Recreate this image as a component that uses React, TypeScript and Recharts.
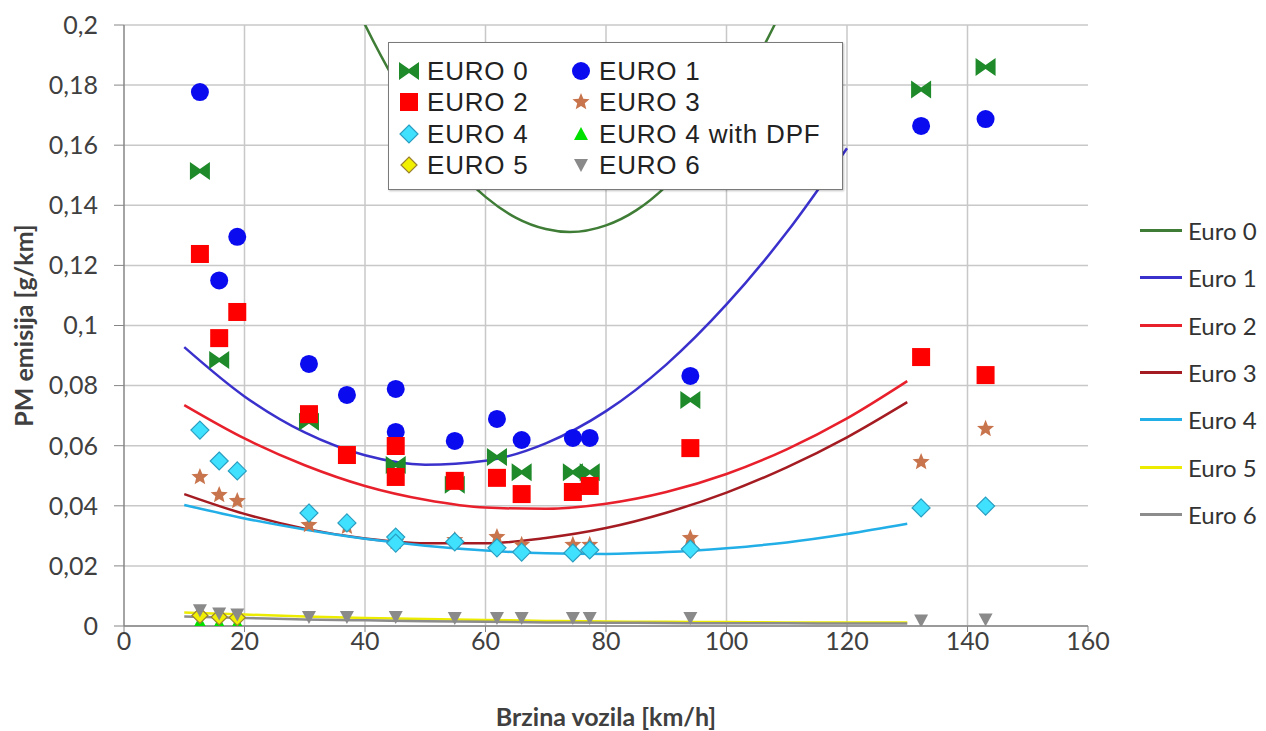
import React from 'react';
import { ComposedChart, Scatter, Line, XAxis, YAxis, CartesianGrid, ReferenceLine, Label } from 'recharts';

// ---- measured points (speed km/h, PM g/km) ----
const euro0X = [12.6, 15.8, 30.7, 45.1, 54.9, 61.9, 66.0, 74.5, 77.3, 94.0, 132.3, 143.0];
const euro0Y = [0.1514, 0.0885, 0.068, 0.0536, 0.047, 0.0562, 0.0512, 0.0512, 0.0512, 0.0752, 0.1785, 0.186];

const euro1X = [12.6, 15.8, 18.8, 30.7, 37.0, 45.1, 45.1, 54.9, 61.9, 66.0, 74.5, 77.3, 94.0, 132.3, 143.0];
const euro1Y = [0.1777, 0.115, 0.1295, 0.0872, 0.0769, 0.0789, 0.0646, 0.0616, 0.0689, 0.0619, 0.0626, 0.0626, 0.0832, 0.1664, 0.1687];

const euro2X = [12.6, 15.8, 18.8, 30.7, 37.0, 45.1, 45.1, 54.9, 61.9, 66.0, 74.5, 77.3, 94.0, 132.3, 143.0];
const euro2Y = [0.1238, 0.0958, 0.1045, 0.0705, 0.0569, 0.0599, 0.0496, 0.0483, 0.0493, 0.0439, 0.0446, 0.0466, 0.0592, 0.0895, 0.0835];

const euro3X = [12.6, 15.8, 18.8, 30.7, 37.0, 45.1, 54.9, 61.9, 66.0, 74.5, 77.3, 94.0, 132.3, 143.0];
const euro3Y = [0.0496, 0.0436, 0.0416, 0.0336, 0.033, 0.028, 0.0286, 0.0296, 0.027, 0.027, 0.027, 0.0293, 0.0546, 0.0656];

const euro4X = [12.6, 15.8, 18.8, 30.7, 37.0, 45.1, 45.1, 54.9, 61.9, 66.0, 74.5, 77.3, 94.0, 132.3, 143.0];
const euro4Y = [0.0652, 0.0549, 0.0516, 0.0376, 0.0343, 0.0296, 0.0276, 0.028, 0.026, 0.0246, 0.0243, 0.0253, 0.0256, 0.0393, 0.0399];

const dpfX = [12.6, 15.8, 18.8];
const dpfY = [0.0012, 0.0008, 0.0008];

const euro5X = [12.6, 15.8, 18.8];
const euro5Y = [0.0035, 0.003, 0.0028];

const euro6X = [12.6, 15.8, 18.8, 30.7, 37.0, 45.1, 54.9, 61.9, 66.0, 74.5, 77.3, 94.0, 132.3, 143.0];
const euro6Y = [0.0052, 0.0042, 0.0038, 0.003, 0.003, 0.003, 0.0027, 0.0027, 0.0027, 0.0027, 0.0027, 0.0027, 0.0018, 0.0022];

// ---- trend curves ----
const trend0X = [36, 40, 45, 50, 55, 60, 65, 70, 74, 80, 85, 90, 95, 100, 105, 110, 112];
const trend0Y = [0.2173, 0.2001, 0.1813, 0.1655, 0.1527, 0.1428, 0.1359, 0.1321, 0.1311, 0.1333, 0.1383, 0.1464, 0.1574, 0.1715, 0.1885, 0.2085, 0.2173];

const trendX = [10, 20, 30, 40, 50, 60, 70, 80, 90, 100, 110, 120, 130];
const trend1Y = [0.0928, 0.0764, 0.0644, 0.0568, 0.0537, 0.055, 0.0608, 0.0715, 0.087, 0.107, 0.131, 0.159];
const trend2Y = [0.0735, 0.0624, 0.0535, 0.0466, 0.042, 0.0394, 0.039, 0.0407, 0.0446, 0.0506, 0.0588, 0.0691, 0.0815];
const trend3Y = [0.0439, 0.0373, 0.0324, 0.0291, 0.0275, 0.0275, 0.0293, 0.0326, 0.0377, 0.0444, 0.0528, 0.0628, 0.0745];
const trend4Y = [0.0403, 0.0358, 0.0321, 0.029, 0.0267, 0.0251, 0.0242, 0.024, 0.0246, 0.0259, 0.0278, 0.0306, 0.034];
const trend5Y = [0.0045, 0.0038, 0.0032, 0.0027, 0.0023, 0.002, 0.0017, 0.0015, 0.0014, 0.0013, 0.0012, 0.0012, 0.0012];
const trend6Y = [0.0032, 0.0027, 0.0022, 0.0019, 0.0016, 0.0014, 0.0012, 0.0011, 0.001, 0.0009, 0.0009, 0.0008, 0.0008];

const xTicks = [0, 20, 40, 60, 80, 100, 120, 140, 160];
const xGrid = [20, 40, 60, 80, 100, 120, 140];
const yTicks = [0, 0.02, 0.04, 0.06, 0.08, 0.1, 0.12, 0.14, 0.16, 0.18, 0.2];

const zip = (xs: number[], ys: number[]) => ys.map((y, i) => ({ x: xs[i], y }));

// ---- marker shapes ----
const Bowtie = (p: any) => {
  const { cx, cy } = p;
  return <path d={`M${cx - 10},${cy - 9}L${cx},${cy - 2}L${cx + 10},${cy - 9}L${cx + 10},${cy + 9}L${cx},${cy + 2}L${cx - 10},${cy + 9}Z`} fill="#1f8a2a" />;
};
const Dot = (p: any) => <circle cx={p.cx} cy={p.cy} r={9} fill="#0b0bf0" />;
const Sq = (p: any) => <rect x={p.cx - 9} y={p.cy - 9} width={18} height={18} fill="#ff0000" />;
const starPath = (cx: number, cy: number, R: number, r: number) => {
  let d = '';
  for (let i = 0; i < 10; i++) {
    const a = -Math.PI / 2 + (i * Math.PI) / 5;
    const rad = i % 2 === 0 ? R : r;
    d += (i === 0 ? 'M' : 'L') + (cx + rad * Math.cos(a)).toFixed(2) + ',' + (cy + rad * Math.sin(a)).toFixed(2);
  }
  return d + 'Z';
};
const Star = (p: any) => <path d={starPath(p.cx, p.cy, 9, 4)} fill="#c8744c" />;
const Diamond = (p: any) => (
  <path d={`M${p.cx},${p.cy - 9}L${p.cx + 9},${p.cy}L${p.cx},${p.cy + 9}L${p.cx - 9},${p.cy}Z`} fill="#40e0ff" stroke="#2a9ec0" strokeWidth={1.2} />
);
const Tri = (p: any) => <path d={`M${p.cx},${p.cy - 7}L${p.cx + 7},${p.cy + 6}L${p.cx - 7},${p.cy + 6}Z`} fill="#00e000" />;
const YDiamond = (p: any) => (
  <path d={`M${p.cx},${p.cy - 8}L${p.cx + 8},${p.cy}L${p.cx},${p.cy + 8}L${p.cx - 8},${p.cy}Z`} fill="#f0f000" stroke="#9a8030" strokeWidth={1.2} />
);
const DownTri = (p: any) => <path d={`M${p.cx - 7},${p.cy - 6}L${p.cx + 7},${p.cy - 6}L${p.cx},${p.cy + 7}Z`} fill="#8a8a8a" />;

const scatterSeries = [
  { name: 'EURO 0', xs: euro0X, ys: euro0Y, shape: Bowtie },
  { name: 'EURO 1', xs: euro1X, ys: euro1Y, shape: Dot },
  { name: 'EURO 2', xs: euro2X, ys: euro2Y, shape: Sq },
  { name: 'EURO 3', xs: euro3X, ys: euro3Y, shape: Star },
  { name: 'EURO 4', xs: euro4X, ys: euro4Y, shape: Diamond },
  { name: 'EURO 4 with DPF', xs: dpfX, ys: dpfY, shape: Tri },
  { name: 'EURO 5', xs: euro5X, ys: euro5Y, shape: YDiamond },
  { name: 'EURO 6', xs: euro6X, ys: euro6Y, shape: DownTri },
];

const lineSeries = [
  { name: 'Euro 0', xs: trend0X, ys: trend0Y, color: '#3f7d36' },
  { name: 'Euro 1', xs: trendX, ys: trend1Y, color: '#3a30cc' },
  { name: 'Euro 2', xs: trendX, ys: trend2Y, color: '#e8202c' },
  { name: 'Euro 3', xs: trendX, ys: trend3Y, color: '#a41c22' },
  { name: 'Euro 4', xs: trendX, ys: trend4Y, color: '#22aee6' },
  { name: 'Euro 5', xs: trendX, ys: trend5Y, color: '#ecec00' },
  { name: 'Euro 6', xs: trendX, ys: trend6Y, color: '#8c8c8c' },
];

const fmtY = (v: number) => String(v).replace('.', ',');
const tickFont = { fontFamily: 'Lato', fontSize: 25, fill: '#404040' };
const titleStyle: React.CSSProperties = { fontFamily: 'Lato', fontSize: 25, fontWeight: 700, fill: '#404040' };

const LegendMarker = ({ Shape }: { Shape: any }) => (
  <svg width={24} height={24} style={{ display: 'block' }}>
    <Shape cx={12} cy={12} />
  </svg>
);

export default function App() {
  return (
    <div style={{ position: 'absolute', left: 0, top: 0, width: 1266, height: 731, background: '#fff' }}>
      <ComposedChart width={1266} height={731} margin={{ top: 25, right: 178, bottom: 0, left: 0 }}>
        <CartesianGrid vertical={false} stroke="#c8c8c8" strokeWidth={1.5} />
        {xGrid.map((v) => (
          <ReferenceLine key={v} x={v} stroke="#c8c8c8" strokeWidth={1.5} />
        ))}
        <XAxis
          dataKey="x"
          type="number"
          domain={[0, 160]}
          ticks={xTicks}
          allowDataOverflow
          height={105}
          tickSize={6}
          tickMargin={0}
          tick={tickFont}
          stroke="#868686"
          axisLine={{ stroke: '#868686', strokeWidth: 1.5 }}
          tickLine={{ stroke: '#868686' }}
        >
          <Label
            content={(props: any) => {
              const vb = props.viewBox;
              return (
                <text x={vb.x + vb.width / 2} y={vb.y + vb.height - 5} textAnchor="middle" style={titleStyle}>
                  Brzina vozila [km/h]
                </text>
              );
            }}
          />
        </XAxis>
        <YAxis
          dataKey="y"
          type="number"
          domain={[0, 0.2]}
          ticks={yTicks}
          allowDataOverflow
          width={124}
          tickSize={10}
          tickMargin={16}
          tickFormatter={fmtY}
          tick={tickFont}
          axisLine={{ stroke: '#868686', strokeWidth: 1.5 }}
          tickLine={{ stroke: '#868686' }}
        >
          <Label
            content={(props: any) => {
              const vb = props.viewBox;
              const cx = vb.x + 23;
              const cy = vb.y + vb.height / 2;
              return (
                <text x={cx} y={cy} transform={`rotate(-90 ${cx} ${cy})`} textAnchor="middle" dominantBaseline="central" style={titleStyle}>
                  PM emisija [g/km]
                </text>
              );
            }}
          />
        </YAxis>
        {lineSeries.map((s) => (
          <Line
            key={s.name}
            name={s.name}
            data={zip(s.xs, s.ys)}
            dataKey="y"
            type="monotone"
            stroke={s.color}
            strokeWidth={2.5}
            dot={false}
            activeDot={false}
            isAnimationActive={false}
          />
        ))}
        {scatterSeries.map((s) => (
          <Scatter key={s.name} name={s.name} data={zip(s.xs, s.ys)} dataKey="y" shape={s.shape} isAnimationActive={false} />
        ))}
      </ComposedChart>

      {/* inner marker legend */}
      <div
        style={{
          position: 'absolute',
          left: 388,
          top: 42,
          width: 455,
          height: 148,
          boxSizing: 'border-box',
          border: '1.5px solid #7a7a7a',
          background: '#fff',
          boxShadow: '1px 1px 2px rgba(0,0,0,0.25)',
          display: 'grid',
          gridTemplateColumns: '172px 1fr',
          gridAutoRows: '31.5px',
          padding: '12px 0 0 8px',
          fontFamily: '"Liberation Sans", Arial, sans-serif',
          fontSize: 26,
          letterSpacing: 0.8,
          color: '#222',
        }}
      >
        {scatterSeries.map((s) => (
          <div key={s.name} style={{ display: 'flex', alignItems: 'center', whiteSpace: 'nowrap' }}>
            <LegendMarker Shape={s.shape} />
            <span style={{ marginLeft: 6, lineHeight: '30px' }}>{s.name}</span>
          </div>
        ))}
      </div>

      {/* right line legend */}
      <div style={{ position: 'absolute', left: 1140, top: 207, fontFamily: 'Lato', fontSize: 24, color: '#333' }}>
        {lineSeries.map((s) => (
          <div key={s.name} style={{ display: 'flex', alignItems: 'center', height: 47.3 }}>
            <div style={{ width: 42, height: 3, background: s.color, marginRight: 6 }} />
            <span>{s.name}</span>
          </div>
        ))}
      </div>
    </div>
  );
}
